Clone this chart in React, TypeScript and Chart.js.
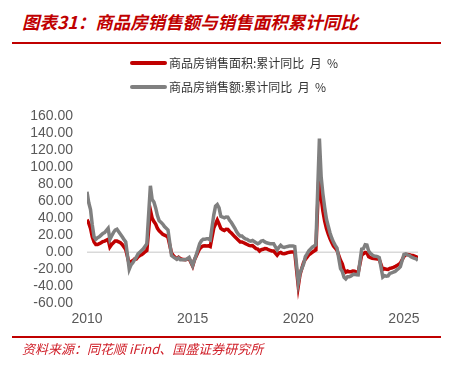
import React, { useEffect, useRef } from "react";
import { Chart, registerables } from "chart.js";

Chart.register(...registerables);

const years = [2010, 2011, 2012, 2013, 2014, 2015, 2016, 2017, 2018, 2019, 2020, 2021, 2022, 2023, 2024, 2025];
const months = [2, 3, 4, 5, 6, 7, 8, 9, 10, 11, 12];

const areaYoY: number[][] = [
  [38.2, 34, 28, 18, 12, 9, 9, 10, 11, 12.5, 13],
  [15, 6, 9, 11, 13, 13, 12, 11, 9, 6, 3],
  [-14, -11, -10, -8, -8, -5.5, -4, -3, -1.5, 0.5, 2],
  [49.5, 40, 36, 33, 28, 25, 23, 21, 20, 19, 17.3],
  [-1, -4, -6, -7.8, -6, -7.6, -8.3, -8.6, -8.9, -8.2, -7.6],
  [-16.3, -9.2, -4.8, -0.2, 3.9, 6.1, 7.2, 7.5, 7.2, 7.4, 6.5],
  [28.2, 33.1, 37.7, 33.2, 27.9, 26.4, 25.5, 26.9, 26.8, 24.3, 22.5],
  [18, 16, 14, 12, 12, 11, 10, 9, 8, 7.5, 7.7],
  [4.1, 3.6, 1.3, 2.9, 3.3, 4.2, 4.0, 2.9, 2.2, 1.4, 1.3],
  [-3.6, -0.9, -0.3, -1.6, -1.8, -1.3, -0.6, -0.1, 0.1, 0.2, -0.1],
  [-39.9, -26.3, -19.3, -12.3, -8.4, -5.8, -3.3, -1.8, 0.0, 1.3, 2.6],
  [104.9, 63.8, 48.1, 36.3, 27.7, 21.5, 15.9, 11.3, 7.3, 4.8, 1.9],
  [-9.6, -13.8, -20.9, -23.6, -22.2, -23.1, -23.0, -22.2, -22.3, -23.3, -24.3],
  [-3.6, -1.8, -0.4, -0.9, -5.3, -6.5, -7.1, -7.5, -7.8, -8.0, -8.5],
  [-20.5, -19.4, -20.2, -20.3, -19.0, -18.6, -18.0, -17.1, -15.8, -14.3, -12.9],
  [-5.1, -3.0, -2.8, -2.9, -3.5, -4.0, -4.7, -5.5, -6.8],
];

const amountYoY: number[][] = [
  [71, 58, 50, 32, 18, 15, 17, 18, 20, 22, 23],
  [28, 15, 19, 23, 26, 27, 24, 21, 18, 15, 12],
  [-20, -15, -12.5, -9, -6, -2, 0, 2, 4, 7, 10],
  [78, 62, 59, 52, 43, 37, 35, 33, 30, 28, 26],
  [-4, -5.5, -7, -8.5, -6.7, -9, -8.9, -8.9, -8.9, -7.8, -6.3],
  [-15.8, -9.3, -3.3, 3.0, 10.0, 13.4, 15.3, 15.3, 15.6, 15.6, 14.4],
  [43.6, 54.1, 56, 52, 42.1, 41.3, 40.3, 41.3, 41.2, 37.5, 34.8],
  [28, 24, 21, 19, 19, 17, 15.5, 15, 13.5, 13, 13.7],
  [11, 9.8, 11, 13, 13.5, 12, 11, 10.5, 10, 10, 10],
  [2.8, 5.6, 8.1, 6.1, 5.6, 6.2, 6.7, 7.1, 7.3, 7.3, 6.5],
  [-35.9, -24.7, -19.3, -14.3, -5.4, -2.1, 1.6, 3.7, 5.8, 7.2, 8.7],
  [133.4, 88.5, 68.2, 52.4, 38.9, 30.7, 22.8, 16.6, 11.8, 8.0, 4.8],
  [-19.3, -22.7, -29.5, -31.5, -28.9, -28.8, -27.9, -26.3, -26.1, -26.6, -26.7],
  [3.5, 4.1, 8.8, 8.4, 1.1, -1.5, -3.2, -4.6, -4.9, -5.2, -6.5],
  [-29.3, -27.6, -28.3, -27.9, -25.0, -24.3, -23.6, -22.7, -20.9, -19.2, -17.1],
  [-2.6, -2.1, -3.2, -3.8, -5.5, -6.5, -7.3, -7.9, -9.6],
];

const seriesNames = ["商品房销售面积:累计同比  月  %", "商品房销售额:累计同比  月  %"];
const yTicks = [-60, -40, -20, 0, 20, 40, 60, 80, 100, 120, 140, 160];
const xTicks = [2010, 2015, 2020, 2025];

function toPoints(rows: number[][]) {
  const pts: { x: number; y: number }[] = [];
  rows.forEach((row, yi) => {
    row.forEach((v, mi) => {
      pts.push({ x: years[yi] + (months[mi] - 2) / 12, y: v });
    });
  });
  return pts;
}

const legendPlugin = {
  id: "customLegend",
  afterDraw(chart: any) {
    const ctx = chart.ctx;
    ctx.save();
    chart.data.datasets.forEach((ds: any, i: number) => {
      const y = 63 + i * 24;
      ctx.strokeStyle = ds.borderColor;
      ctx.lineWidth = 4;
      ctx.lineCap = "round";
      ctx.beginPath();
      ctx.moveTo(132, y);
      ctx.lineTo(165, y);
      ctx.stroke();
      ctx.fillStyle = "#333333";
      ctx.font = "12px 'Noto Sans CJK SC'";
      ctx.textBaseline = "middle";
      ctx.textAlign = "left";
      ctx.fillText(ds.label, 169, y);
    });
    ctx.restore();
  },
};

const zeroLinePlugin = {
  id: "zeroLine",
  beforeDatasetsDraw(chart: any) {
    const { ctx, chartArea, scales } = chart;
    const y0 = scales.y.getPixelForValue(0);
    ctx.save();
    ctx.strokeStyle = "#D9D9D9";
    ctx.lineWidth = 1.5;
    ctx.beginPath();
    ctx.moveTo(chartArea.left, y0);
    ctx.lineTo(chartArea.right, y0);
    ctx.stroke();
    ctx.restore();
  },
};

export default function App() {
  const ref = useRef<HTMLCanvasElement | null>(null);
  useEffect(() => {
    if (!ref.current) return;
    const area = toPoints(areaYoY);
    const amount = toPoints(amountYoY);
    const xMax = area[area.length - 1].x;
    const chart = new Chart(ref.current, {
      type: "line",
      data: {
        datasets: [
          {
            label: seriesNames[0],
            data: area,
            borderColor: "#C00000",
            backgroundColor: "#C00000",
            borderWidth: 3.5,
            pointRadius: 0,
            tension: 0,
            order: 2,
          },
          {
            label: seriesNames[1],
            data: amount,
            borderColor: "#808080",
            backgroundColor: "#808080",
            borderWidth: 3.5,
            pointRadius: 0,
            tension: 0,
            order: 1,
          },
        ],
      },
      options: {
        animation: false,
        responsive: true,
        maintainAspectRatio: false,
        layout: { padding: { top: 116, left: 10, right: 34, bottom: 31 } },
        plugins: { legend: { display: false }, tooltip: { enabled: false } },
        scales: {
          x: {
            type: "linear",
            min: 2010,
            max: xMax,
            grid: { display: false, drawTicks: false },
            border: { display: false },
            afterBuildTicks: (s: any) => {
              s.ticks = xTicks.map((v) => ({ value: v }));
            },
            ticks: {
              includeBounds: false,
              padding: 8,
              maxRotation: 0,
              autoSkip: false,
              color: "#595959",
              font: { family: "'Liberation Sans', Arial", size: 14 },
              callback: (v: any) => String(v),
            },
          },
          y: {
            min: -60,
            max: 160,
            afterBuildTicks: (s: any) => {
              s.ticks = yTicks.map((v) => ({ value: v }));
            },
            afterFit: (s: any) => {
              s.width = 77;
            },
            grid: { display: false, drawTicks: false },
            border: { display: false },
            ticks: {
              autoSkip: false,
              padding: 14,
              color: "#595959",
              font: { family: "'Liberation Sans', Arial", size: 14 },
              callback: (v: any) => Number(v).toFixed(2),
            },
          },
        },
      },
      plugins: [legendPlugin, zeroLinePlugin],
    });
    return () => chart.destroy();
  }, []);

  return (
    <div style={{ position: "absolute", left: 0, top: 0, width: 452, height: 367, background: "#fff", overflow: "hidden" }}>
      <div
        style={{
          position: "absolute",
          left: 22,
          top: 10,
          fontFamily: "'Noto Sans CJK SC'",
          fontSize: 17.5,
          fontWeight: 700,
          fontStyle: "italic",
          color: "#C00000",
          lineHeight: "24px",
          whiteSpace: "nowrap",
        }}
      >
        图表31：商品房销售额与销售面积累计同比
      </div>
      <div style={{ position: "absolute", left: 12, top: 42, width: 429, height: 1.5, background: "#C00000" }} />
      <canvas ref={ref} style={{ position: "absolute", left: 0, top: 0 }} />
      <div style={{ position: "absolute", left: 12, top: 336, width: 429, height: 1.5, background: "#C00000" }} />
      <div
        style={{
          position: "absolute",
          left: 22,
          top: 340,
          fontFamily: "'Noto Sans CJK SC'",
          fontSize: 13,
          fontStyle: "italic",
          color: "#D0202A",
          lineHeight: "18px",
          whiteSpace: "nowrap",
        }}
      >
        资料来源：同花顺 iFind、国盛证券研究所
      </div>
    </div>
  );
}
